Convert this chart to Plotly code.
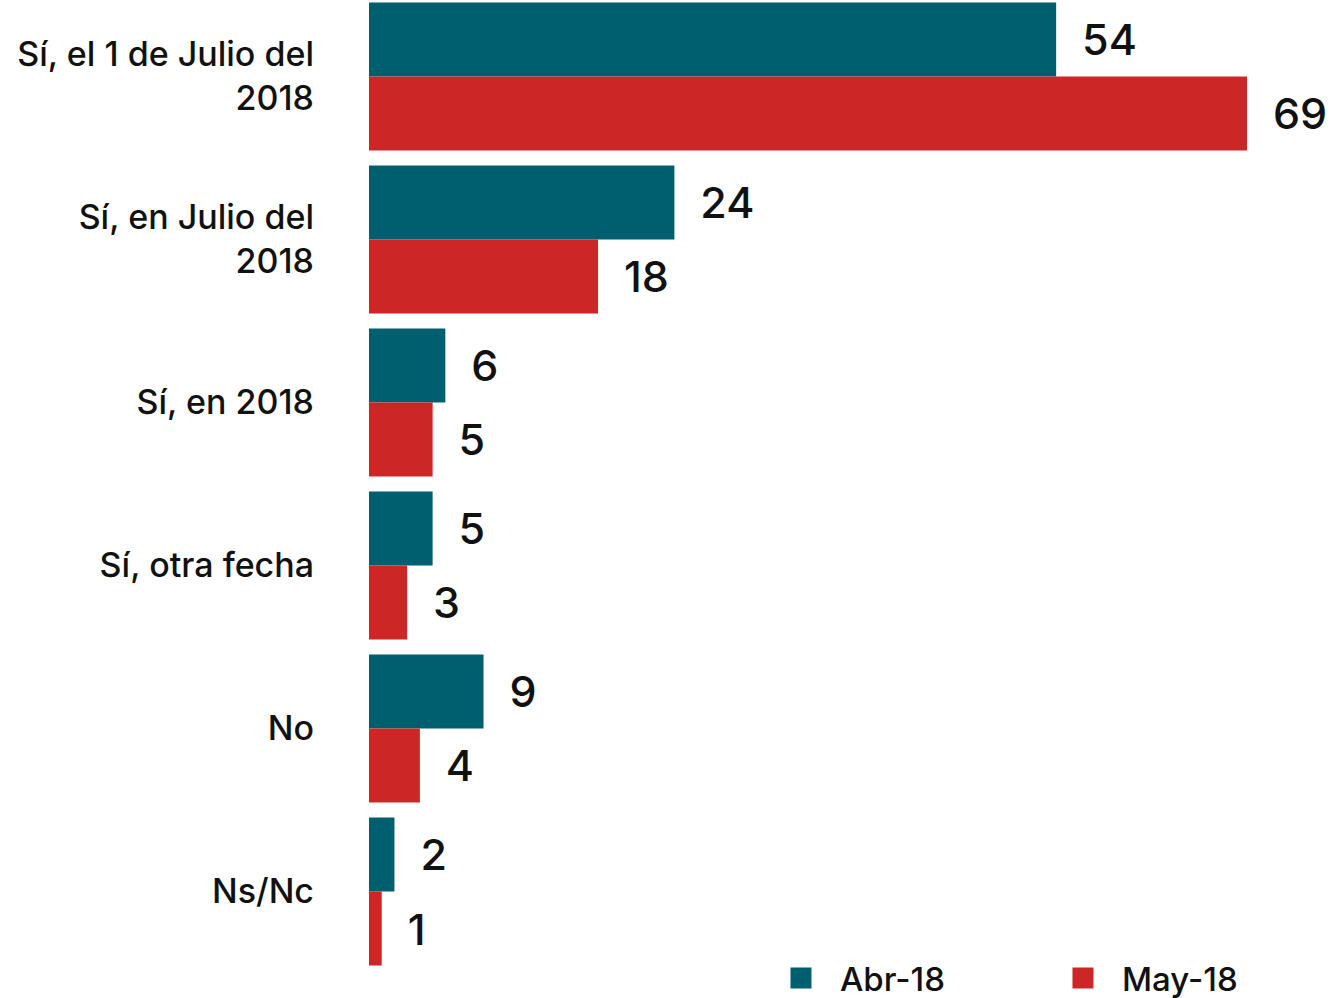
import plotly.graph_objects as go

categories = ["Sí, el 1 de Julio del<br>2018", "Sí, en Julio del<br>2018", "Sí, en 2018",
              "Sí, otra fecha", "No", "Ns/Nc"]
abr_18 = [54, 24, 6, 5, 9, 2]
may_18 = [69, 18, 5, 3, 4, 1]
series_names = ["Abr-18", "May-18"]
colors = ["#005F6E", "#CC2627"]

FONT = "Inter"
fig = go.Figure()
for name, vals, col in zip(series_names, [abr_18, may_18], colors):
    fig.add_trace(go.Bar(
        y=categories, x=vals, name=name, orientation="h", showlegend=False,
        marker=dict(color=col, line=dict(width=0)),
        text=vals, texttemplate="\u00a0\u00a0%{x}", textposition="outside",
        textfont=dict(family=FONT, size=43, color="#111111", weight=500),
        cliponaxis=False,
    ))
# legend entries (square keys)
for name, col in zip(series_names, colors):
    fig.add_trace(go.Scatter(
        x=[None], y=[None], mode="markers", name=name,
        marker=dict(symbol="square", size=16, color=col, line=dict(color=col, width=5)),
    ))

fig.update_layout(
    width=1331, height=998,
    barmode="group", bargap=0.092, bargroupgap=0,
    margin=dict(l=369, r=0, t=0, b=25, autoexpand=False),
    plot_bgcolor="white", paper_bgcolor="white",
    font=dict(family=FONT, color="#111111"),
    xaxis=dict(range=[0, 75.6], visible=False, showgrid=False, zeroline=False),
    yaxis=dict(range=[5.5, -0.469], showgrid=False, zeroline=False, showline=False,
               ticks="", ticklabelstandoff=54, automargin=False,
               tickfont=dict(family=FONT, size=34, color="#111111", weight=500)),
    legend=dict(orientation="h", x=0.4085, xanchor="left", y=-33 / 973, yanchor="bottom",
                font=dict(family=FONT, size=33, color="#111111", weight=500),
                entrywidth=199, entrywidthmode="pixels", itemwidth=68,
                bgcolor="rgba(0,0,0,0)", borderwidth=0),
)
fig.write_html("out.html", config={"displayModeBar": False},
               post_script="document.body.style.margin='0';document.body.style.overflow='hidden';")
